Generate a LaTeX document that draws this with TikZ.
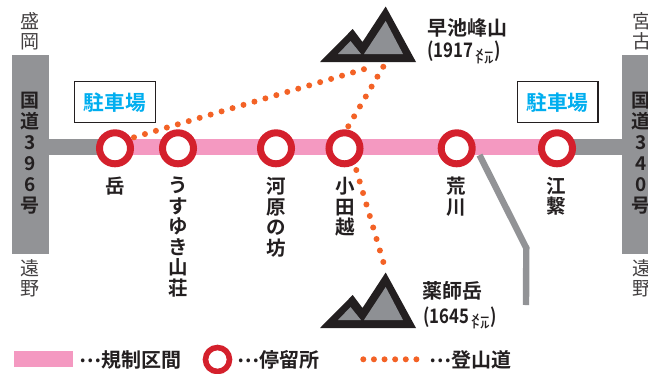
\documentclass[tikz,border=0pt]{standalone}
\usepackage{fontspec}
\setmainfont{Noto Sans CJK JP}[BoldFont={Noto Sans CJK JP Bold}]
\newfontfamily\narrowcjk[FakeStretch=0.84]{Noto Sans CJK JP Bold}
\definecolor{roadgray}{RGB}{146,147,150}
\definecolor{zonepink}{RGB}{244,153,193}
\definecolor{ringred}{RGB}{212,32,44}
\definecolor{trailorange}{RGB}{243,98,38}
\definecolor{parkblue}{RGB}{0,174,239}
\definecolor{inkdark}{RGB}{35,31,32}
\definecolor{mtgray}{RGB}{142,144,148}
\tikzset{
  x=1pt,y=-1pt,
  road/.style={draw=roadgray,line width=16pt},
  zone/.style={draw=zonepink,line width=16pt},
  branch/.style={draw=roadgray,line width=6.4pt,line join=miter},
  trail/.style={draw=trailorange,line width=6pt,line cap=round,dash pattern=on 0pt off #1},
  stop/.style={circle,draw=ringred,fill=white,line width=7pt,minimum size=31pt,inner sep=0pt},
  sideblock/.style={fill=roadgray,draw=none,inner sep=0pt},
  parking/.style={draw=inkdark,line width=1.3pt,fill=white,minimum width=80pt,minimum height=40pt,inner sep=0pt,font=\bfseries\fontsize{20.7}{20.7}\selectfont,text=parkblue},
  stationlabel/.style={anchor=north,align=center,inner sep=0pt,text=inkdark,font=\bfseries\fontsize{19.5}{20.5}\selectfont},
  place/.style={anchor=center,align=center,inner sep=0pt,text=inkdark!85,font=\fontsize{19}{20}\selectfont},
  roadname/.style={anchor=north,align=center,inner sep=0pt,text=inkdark,font=\bfseries\fontsize{19}{20.9}\selectfont},
  peakname/.style={anchor=west,inner sep=0pt,text=inkdark,font=\bfseries\fontsize{20}{20}\selectfont},
  peakht/.style={anchor=west,inner sep=0pt,text=inkdark,font=\narrowcjk\fontsize{20}{20}\selectfont},
  legendtext/.style={anchor=west,inner sep=0pt,text=inkdark,font=\bfseries\fontsize{20}{20}\selectfont},
  mtblack/.style={fill=inkdark,draw=none},
  mtinner/.style={fill=mtgray,draw=none},
}
\newcommand{\metre}{\hspace{1.5pt}\raisebox{-2pt}{\rmfamily\bfseries\fontsize{9.5}{9.5}\selectfont\begin{tabular}{@{}c@{}}メー\\[-3.5pt]トル\end{tabular}}\hspace{0.5pt}}
\newcommand{\legdots}{\raisebox{5pt}{…}}
\newcommand{\mountain}[2]{%
  \begin{scope}[shift={(#1,#2)}]
    \fill[mtblack] (320,62) -- (352.7,29) -- (362.5,42) -- (385.7,6.5) -- (416,62) -- cycle;
    \fill[mtinner] (338,54) -- (350.5,41) -- (361,54) -- cycle;
    \fill[mtinner] (364,54) -- (385.7,21) -- (403,54) -- cycle;
  \end{scope}}
\begin{document}
\begin{tikzpicture}
\useasboundingbox (0,0) rectangle (648,373);
% side blocks
\node[sideblock,minimum width=37pt,minimum height=199pt] (leftroad) at (30.5,154.5) {};
\node[sideblock,minimum width=37pt,minimum height=199pt] (rightroad) at (640.5,154.5) {};
% stations positions
\coordinate (s1) at (115,148.3);
\coordinate (s2) at (178,148.3);
\coordinate (s3) at (276,148.3);
\coordinate (s4) at (344.5,148.3);
\coordinate (s5) at (456.7,148.3);
\coordinate (s6) at (557,148.3);
% lines
\coordinate (lineL) at (leftroad.east |- 0,147);
\coordinate (lineR) at (rightroad.west |- 0,147);
\coordinate (zoneL) at (115,147);
\coordinate (zoneR) at (557,147);
\draw[road] (lineL) -- (zoneL);
\draw[road] (zoneR) -- (lineR);
\draw[zone] (zoneL) -- (zoneR);
\coordinate (branchstart) at (479.5,155);
\coordinate (branchbend) at (526.3,248);
\coordinate (branchend) at (526,305);
\draw[branch] (branchstart) -- (branchbend) -- (branchend);
% trails
\coordinate (t1) at (134,137.3);
\coordinate (t1e) at (374.7,66);
\coordinate (t2) at (348.3,126.3);
\coordinate (t2e) at (383.3,66.7);
\coordinate (t3) at (356.3,170);
\coordinate (t3e) at (383.3,262);
% stops
\foreach \c/\n in {s1/st1,s2/st2,s3/st3,s4/st4,s5/st5,s6/st6}{\node[stop] (\n) at (\c) {};}
\draw[trail=11.42pt] (t1) -- (t1e);
\draw[trail=11.51pt] (t2) -- (t2e);
\draw[trail=11.98pt] (t3) -- (t3e);
% parking
\node[parking,minimum width=80.6pt,minimum height=41pt] (parkL) at (115,102.2) {駐車場};
\node[parking,minimum width=80.6pt,minimum height=41pt] (parkR) at (557.6,102.2) {駐車場};
% mountains
\mountain{0}{0}
\mountain{0}{266}
\node[peakname] (nameA) at (427,28) {早池峰山};
\node[peakht] (htA) at (427,53.5) {(1917\metre)};
\node[peakname] (nameB) at (422,291) {薬師岳};
\node[peakht] (htB) at (423,319) {(1645\metre)};
% labels
\node[stationlabel] (l1) at (115,177) {岳};
\node[stationlabel] (l2) at (178,177) {う\\す\\ゆ\\き\\山\\荘};
\node[stationlabel] (l3) at (276,177) {河\\原\\の\\坊};
\node[stationlabel] (l4) at (345,177) {小\\田\\越};
\node[stationlabel] (l5) at (456.6,177) {荒\\川};
\node[stationlabel] (l6) at (556.7,177) {江\\繋};
% side texts
\node[place] (p1) at (30,31) {盛\\岡};
\node[place] (p2) at (30,278.5) {遠\\野};
\node[place] (p3) at (642,31) {宮\\古};
\node[place] (p4) at (642,278.5) {遠\\野};
\node[roadname] (r1) at (30,92) {国\\道\\3\\9\\6\\号};
\node[roadname] (r2) at (641,92) {国\\道\\3\\4\\0\\号};
% legend
\node[fill=zonepink,minimum width=59.5pt,minimum height=16pt,inner sep=0pt] (legA) at (43.5,359) {};
\node[legendtext] (legAt) at (79,360) {\legdots 規制区間};
\node[stop,minimum size=24pt,line width=5.6pt] (legB) at (217.5,359.5) {};
\node[legendtext] (legBt) at (237,360) {\legdots 停留所};
\coordinate (legC1) at (363.3,359.3);
\coordinate (legC2) at (416.5,359.3);
\draw[trail=10.62pt] (legC1) -- (legC2);
\node[legendtext] (legCt) at (429,360) {\legdots 登山道};
\end{tikzpicture}
\end{document}
